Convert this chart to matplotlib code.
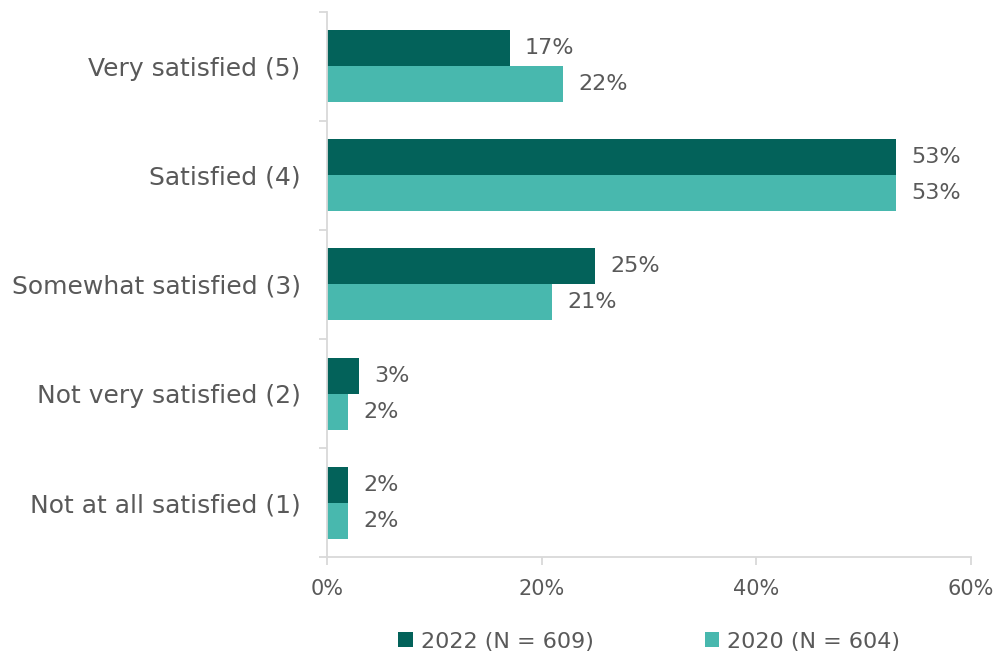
import numpy as np
import matplotlib
matplotlib.use('Agg')
import matplotlib.pyplot as plt

# Data
categories = ['Very satisfied (5)', 'Satisfied (4)', 'Somewhat satisfied (3)',
              'Not very satisfied (2)', 'Not at all satisfied (1)']
values_2022 = [17, 53, 25, 3, 2]
values_2020 = [22, 53, 21, 2, 2]
label_2022 = '2022 (N = 609)'
label_2020 = '2020 (N = 604)'
xticks = [0, 20, 40, 60]

DARK = '#03625A'
LIGHT = '#48B8AE'
TEXT = '#595959'
AXIS = '#D9D9D9'

plt.rcParams['font.family'] = ['DejaVu Sans']
plt.rcParams['font.size'] = 15


def main():
    fig = plt.figure(figsize=(9.94, 6.57), dpi=100)
    ax = fig.add_axes([0.329, 0.152, 0.648, 0.830])

    y = np.arange(len(categories))
    h = 0.33

    bars_a = ax.barh(y - h / 2, values_2022, height=h, color=DARK, label=label_2022)
    bars_b = ax.barh(y + h / 2, values_2020, height=h, color=LIGHT, label=label_2020)

    for bars, vals in ((bars_a, values_2022), (bars_b, values_2020)):
        for b, v in zip(bars, vals):
            ax.annotate('{}%'.format(v), (b.get_width(), b.get_y() + b.get_height() / 2),
                        xytext=(11, 0), textcoords='offset points',
                        va='center', ha='left', color=TEXT, fontsize=16)

    ax.set_xlim(0, 60)
    ax.set_ylim(len(categories) - 0.5, -0.5)
    ax.set_xticks(xticks)
    ax.set_xticklabels(['{}%'.format(t) for t in xticks], color=TEXT, fontsize=15)

    ax.set_yticks(y)
    ax.set_yticklabels(categories, color=TEXT, fontsize=18)
    ax.set_yticks(np.arange(len(categories) + 1) - 0.5, minor=True)
    ax.tick_params(axis='y', which='major', length=0, pad=19)
    ax.tick_params(axis='y', which='minor', length=6, color=AXIS, width=1.3)
    ax.tick_params(axis='x', length=6, color=AXIS, width=1.3, pad=10)

    for s in ('top', 'right'):
        ax.spines[s].set_visible(False)
    for s in ('left', 'bottom'):
        ax.spines[s].set_color(AXIS)
        ax.spines[s].set_linewidth(1.3)

    leg = ax.legend(loc='upper center', bbox_to_anchor=(0.5, -0.1), ncol=2,
                    frameon=False, handlelength=0.65, handleheight=0.65,
                    handletextpad=0.35, columnspacing=5.0, fontsize=16)
    for t in leg.get_texts():
        t.set_color(TEXT)

    fig.savefig('out.png', dpi=100)


if __name__ == '__main__':
    main()
